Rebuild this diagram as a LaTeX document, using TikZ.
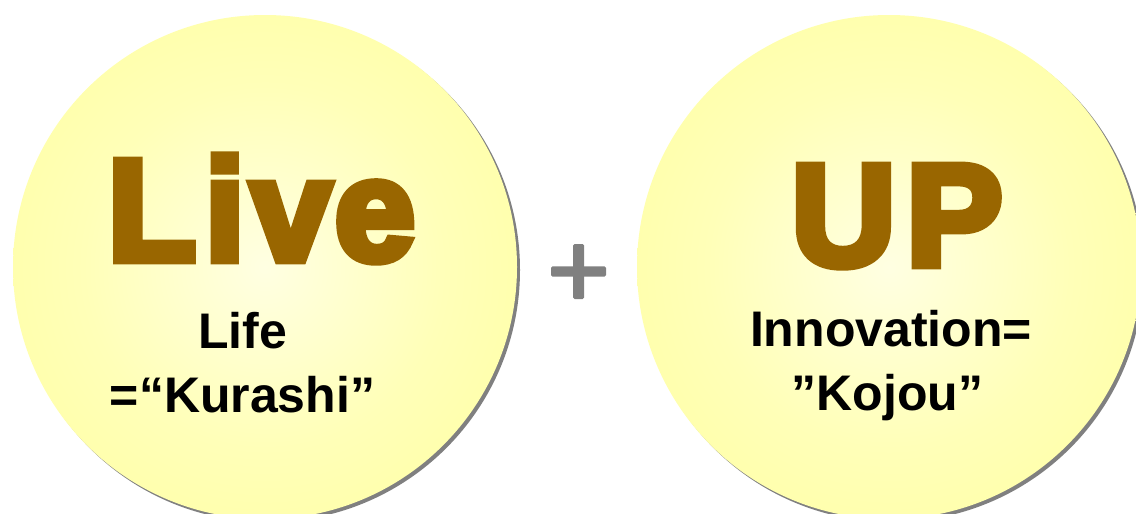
\documentclass[tikz,border=0pt]{standalone}
\usepackage{fontspec}
\setmainfont{Liberation Sans}
\newfontfamily\heavyfont[FakeBold=6]{Liberation Sans Bold}

\definecolor{glowc}{HTML}{FFFFE2}
\definecolor{glowm}{HTML}{FFFFB8}
\definecolor{glowe}{HTML}{FFFF99}
\definecolor{shadowgray}{HTML}{808080}
\definecolor{wordbrown}{HTML}{996600}
\definecolor{plusgray}{HTML}{808080}

\pgfdeclareradialshading{discglow}{\pgfpoint{0bp}{0bp}}{%
  color(0bp)=(glowc); color(18bp)=(glowm); color(40bp)=(glowe); color(50bp)=(glowe)}

\tikzset{
  disc/.style={circle, minimum size=504pt, inner sep=0pt, shading=discglow},
  discshadow/.style={circle, minimum size=504pt, inner sep=0pt, fill=shadowgray},
  bigword/.style={anchor=base, inner sep=0pt, text=wordbrown,
    font=\heavyfont\fontsize{144}{144}\selectfont},
  caption/.style={anchor=base, inner sep=0pt, text=black,
    font=\bfseries\fontsize{50}{50}\selectfont},
  plusbar/.style={fill=plusgray, rounded corners=1.5pt}
}

\begin{document}
\begin{tikzpicture}[x=1pt, y=-1pt]
  \useasboundingbox (0,0) rectangle (1136,514);
  \fill[white] (0,0) rectangle (1136,514);
  \clip (0,0) rectangle (1136,514);

  % left disc: Live
  \node[discshadow] (liveshadow) at (268,270) {};
  \node[disc] (livedisc) at (265,267) {};
  \node[bigword] (live) at (261.5,260) {L\kern9pt i\kern6pt v\kern4pt e};
  \node[caption] (life) at (242.5,348) {Life};
  \node[caption] (kurashi) at (242.5,412) {=“Kurashi”};

  % right disc: UP
  \node[discshadow] (upshadow) at (892,270) {};
  \node[disc] (updisc) at (889,267) {};
  \node[bigword] (up) at (897,265) {U\kern11pt P};
  \node[caption] (innovation) at (891,346.5) {Innovation=};
  \node[caption] (kojou) at (887.5,410) {”Kojou”};

  % plus sign between the discs
  \coordinate (plus) at (578.5,271.5);
  \fill[plusbar] ([xshift=-27.5pt,yshift=-5.2pt]plus) rectangle ([xshift=27.5pt,yshift=5.2pt]plus);
  \fill[plusbar] ([xshift=-5.5pt,yshift=-27.5pt]plus) rectangle ([xshift=5.5pt,yshift=27.5pt]plus);
\end{tikzpicture}
\end{document}
